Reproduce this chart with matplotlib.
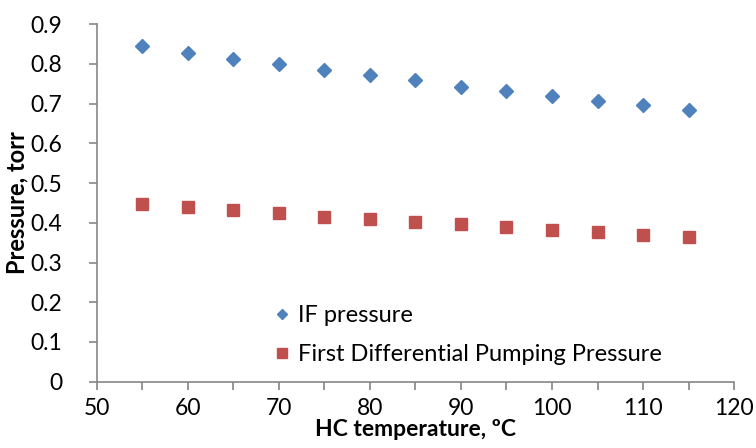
import matplotlib.pyplot as plt

# data
hc_temp = [55, 60, 65, 70, 75, 80, 85, 90, 95, 100, 105, 110, 115]
if_pressure = [0.846, 0.828, 0.813, 0.799, 0.785, 0.772, 0.759, 0.743, 0.732, 0.719, 0.707, 0.697, 0.685]
fdp_pressure = [0.447, 0.441, 0.433, 0.424, 0.414, 0.409, 0.401, 0.396, 0.390, 0.382, 0.376, 0.369, 0.364]

x_ticks = [50, 60, 70, 80, 90, 100, 110, 120]
y_ticks = [0, 0.1, 0.2, 0.3, 0.4, 0.5, 0.6, 0.7, 0.8, 0.9]

plt.rcParams['font.family'] = ['Lato', 'DejaVu Sans']
grey = '#868686'

fig = plt.figure(figsize=(7.56, 4.48), dpi=100)
ax = fig.add_axes([0.128, 0.148, 0.843, 0.798])

ax.plot(hc_temp, if_pressure, linestyle='none', marker='D', markersize=7,
        color='#4F81BD', label='IF pressure')
ax.plot(hc_temp, fdp_pressure, linestyle='none', marker='s', markersize=9,
        color='#C0504D', label='First Differential Pumping Pressure')

ax.set_xlim(50, 120)
ax.set_ylim(0, 0.9)
ax.set_xticks(x_ticks)
ax.set_xticks(list(range(55, 120, 10)), minor=True)
ax.set_yticks(y_ticks)
ax.set_yticklabels(['0' if v == 0 else f'{v:g}' for v in y_ticks])

for s in ['top', 'right']:
    ax.spines[s].set_visible(False)
for s in ['left', 'bottom']:
    ax.spines[s].set_color(grey)
    ax.spines[s].set_linewidth(1.2)
ax.tick_params(which='both', direction='out', length=6, width=1.2, color=grey,
               labelsize=16.5, labelcolor='black')
ax.tick_params(axis='x', which='both', pad=6)
ax.tick_params(axis='y', pad=19)

ax.set_xlabel('HC temperature, ºC', fontsize=16.5, fontweight='bold', labelpad=0)
ax.set_ylabel('Pressure, torr', fontsize=17, fontweight='bold', labelpad=1)

ax.legend(loc='lower left', bbox_to_anchor=(0.258, 0.02), frameon=False,
          fontsize=17, handletextpad=0.15, labelspacing=0.75, handlelength=1.0,
          markerscale=0.75, borderaxespad=0)

plt.savefig('out.png', dpi=100)
